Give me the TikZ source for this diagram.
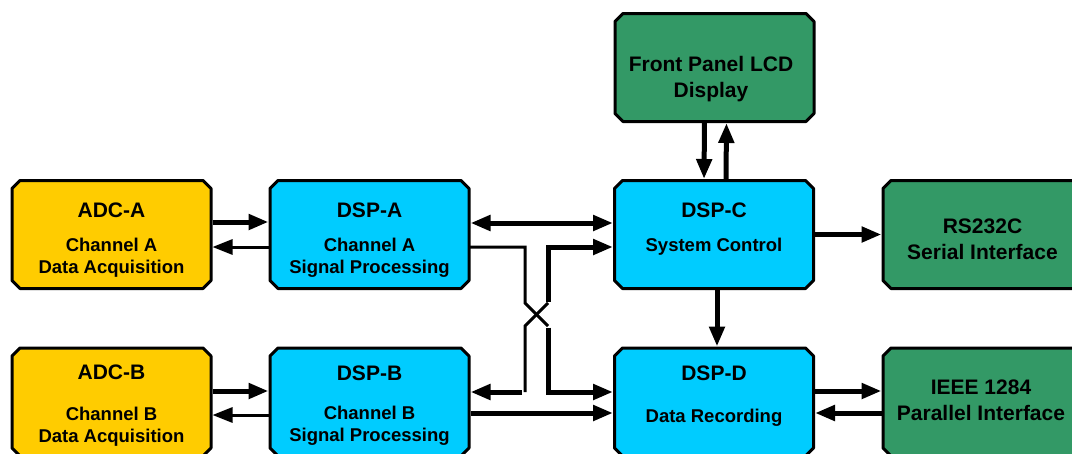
\documentclass[tikz,border=0pt]{standalone}
\usepackage{fontspec}
\setmainfont{Liberation Sans}
\usetikzlibrary{arrows.meta}
\definecolor{adcyellow}{HTML}{FFCC00}
\definecolor{dspcyan}{HTML}{00CCFF}
\definecolor{ifgreen}{HTML}{339966}
% outline of a block with cut corners, drawn round a named node
\newcommand{\chambox}[2]{%
  \filldraw[fill=#2, line width=3pt, line join=round]
    ([xshift=8pt]#1.north west) -- ([xshift=-8pt]#1.north east)
    -- ([yshift=-8pt]#1.north east) -- ([yshift=8pt]#1.south east)
    -- ([xshift=-8pt]#1.south east) -- ([xshift=8pt]#1.south west)
    -- ([yshift=8pt]#1.south west) -- ([yshift=-8pt]#1.north west) -- cycle;}
\begin{document}
\begin{tikzpicture}[x=1pt,y=-1pt,
  block/.style={rectangle, minimum width=199pt, minimum height=108pt,
    inner sep=0pt, outer sep=0pt},
  ttl/.style={inner sep=0pt, align=center,
    font=\bfseries\fontsize{21}{26}\selectfont},
  sub/.style={inner sep=0pt, align=center,
    font=\bfseries\fontsize{18.5}{22}\selectfont},
  tip/.style={-{Triangle[length=20pt,width=15pt]}, shorten >=1.5pt, shorten <=1.5pt},
  tips/.style={{Triangle[length=20pt,width=15pt]}-{Triangle[length=20pt,width=15pt]},
    shorten >=1.5pt, shorten <=1.5pt},
  thk/.style={line width=5pt},
  thn/.style={line width=3pt}]
\useasboundingbox (0,0) rectangle (1072,453);
\clip (0,0) rectangle (1072,453);

% blocks
\node[block] (adca) at (111.5,234.5) {};
\node[block] (dspa) at (369.5,234.5) {};
\node[block] (dspc) at (714,234.5) {};
\node[block] (rs)   at (982.5,234.5) {};
\node[block] (adcb) at (111.5,402) {};
\node[block] (dspb) at (369.5,402) {};
\node[block] (dspd) at (714,402) {};
\node[block] (ieee) at (982.5,402) {};
\node[block] (lcd)  at (714.5,67.5) {};
\chambox{adca}{adcyellow}
\chambox{adcb}{adcyellow}
\chambox{dspa}{dspcyan}
\chambox{dspb}{dspcyan}
\chambox{dspc}{dspcyan}
\chambox{dspd}{dspcyan}
\chambox{rs}{ifgreen}
\chambox{ieee}{ifgreen}
\chambox{lcd}{ifgreen}

% labels
\node[ttl] (adcaT) at (111.5,210) {ADC-A};
\node[sub] (adcaS) at (111.5,258) {Channel A\\Data Acquisition};
\node[ttl] (dspaT) at (369.5,210) {DSP-A};
\node[sub] (dspaS) at (369.5,258) {Channel A\\Signal Processing};
\node[ttl] (dspcT) at (714,210) {DSP-C};
\node[sub] (dspcS) at (714,247) {System Control};
\node[ttl] (rsT)   at (982.5,239.5) {RS232C\\Serial Interface};
\node[ttl] (adcbT) at (111.5,372) {ADC-B};
\node[sub] (adcbS) at (111.5,426.5) {Channel B\\Data Acquisition};
\node[ttl] (dspbT) at (369.5,373) {DSP-B};
\node[sub] (dspbS) at (369.5,426) {Channel B\\Signal Processing};
\node[ttl] (dspdT) at (714,373) {DSP-D};
\node[sub] (dspdS) at (714,418) {Data Recording};
\node[ttl] (ieeeT) at (981,400) {IEEE 1284\\Parallel Interface};
\node[ttl] (lcdT)  at (711,79) {Front Panel LCD\\Display};

% crossing points between the DSP columns
\coordinate (xtl) at (525,303);
\coordinate (xtr) at (548,303);
\coordinate (xbl) at (525,326);
\coordinate (xbr) at (548,326);

% channel A links
\draw[thk,tip] ([yshift=12.5pt]adca.east) -- ([yshift=12.5pt]dspa.west);
\draw[thn,tip] ([yshift=-12.5pt]dspa.west) -- ([yshift=-12.5pt]adca.east);
\draw[thk,tips] ([yshift=11.5pt]dspa.east) -- ([yshift=11.5pt]dspc.west);

% channel B links
\draw[thk,tip] ([yshift=11pt]adcb.east) -- ([yshift=11pt]dspb.west);
\draw[thn,tip] ([yshift=-13pt]dspb.west) -- ([yshift=-13pt]adcb.east);
\draw[thk,tip] ([yshift=-11pt]dspb.east) -- ([yshift=-11pt]dspd.west);

% crossed links
\draw[thn] ([yshift=-12.5pt]dspa.east) -| (xtl) -- (xbr);
\draw[thk,tip] (xbr) |- ([yshift=10pt]dspd.west);
\draw[thk,tip] (xtr) |- ([yshift=-12.5pt]dspc.west);
\draw[thn] (xtr) -- (xbl) -- (525,392);
\draw[thk,tip] (523.5,392) -- ([yshift=10pt]dspb.east);

% system control links
\draw[thk,tip] ([xshift=-10pt]lcd.south) -- ([xshift=-10pt]dspc.north);
\draw[thk,tip] ([xshift=12pt]dspc.north) -- ([xshift=12pt]lcd.south);
\draw[thk,tip] ([xshift=3pt]dspc.south) -- ([xshift=3pt]dspd.north);
\draw[thk,tip] (dspc.east) -- (rs.west);
\draw[thk,tip] ([yshift=11pt]dspd.east) -- ([yshift=11pt]ieee.west);
\draw[thk,tip] ([yshift=-11pt]ieee.west) -- ([yshift=-11pt]dspd.east);
\end{tikzpicture}
\end{document}
